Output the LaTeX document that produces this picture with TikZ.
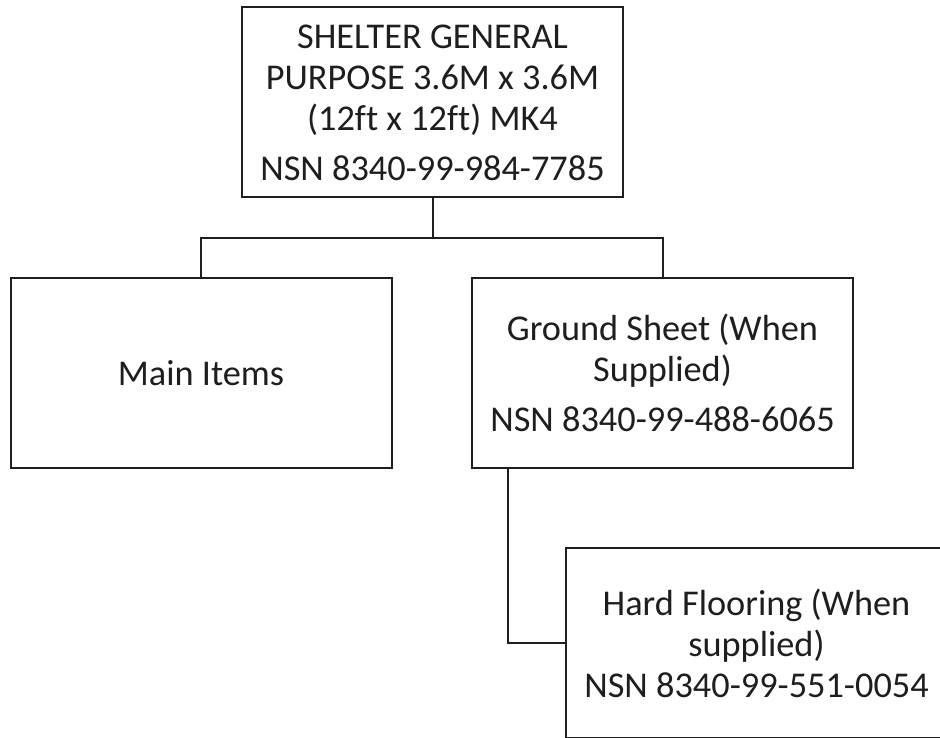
\documentclass[tikz,border=0pt]{standalone}
\usepackage{fontspec}
\setmainfont[Ligatures=NoCommon]{Carlito}
\definecolor{inkgray}{HTML}{1E1E1E}
\begin{document}
\begin{tikzpicture}[
            x=1pt,y=-1pt,
            box/.style={rectangle,draw=inkgray,line width=2pt,fill=white,minimum width=381pt,minimum height=190pt,align=center,text=inkgray,font=\fontsize{36.3}{41}\selectfont},
            link/.style={draw=inkgray,line width=2pt}
        ]
            \clip (0,0) rectangle (940,738);
            \useasboundingbox (0,0) rectangle (940,738);
            \fill[white] (0,0) rectangle (940,738);

            \node[box] (shelter) at (432.5,102.5) {SHELTER GENERAL\\PURPOSE 3.6M x 3.6M\\(12ft x 12ft) MK4\\[9pt]NSN 8340-99-984-7785};
            \node[box] (mainitems) at (201,373) {Main Items};
            \node[box] (groundsheet) at (662.5,373) {Ground Sheet (When\\Supplied)\\[9pt]NSN 8340-99-488-6065};
            \node[box] (flooring) at (756.5,643) {Hard Flooring (When\\supplied)\\NSN 8340-99-551-0054};

            \coordinate (split) at (432.5,238);
            \draw[link] (shelter.south) -- (split);
            \draw[link] (mainitems.north) |- (split) -| (groundsheet.north);
            \draw[link] ([xshift=37pt]groundsheet.south west) |- (flooring.west);
        \end{tikzpicture}
\end{document}
